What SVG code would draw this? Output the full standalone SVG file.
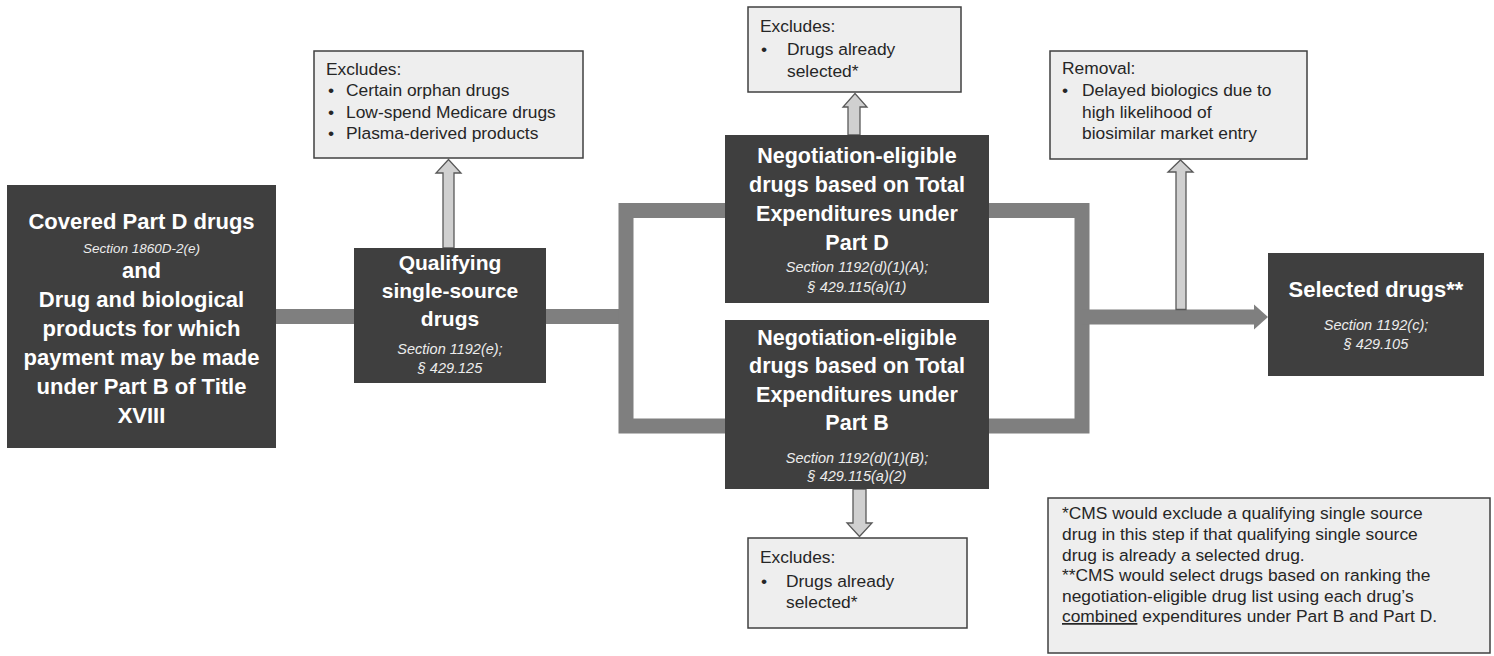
<svg xmlns="http://www.w3.org/2000/svg" width="1494" height="656" viewBox="0 0 1494 656">
<style>
.dark{fill:#3f3f3f}
.light{fill:#eeeeee;stroke:#404040;stroke-width:1.5}
.bar{fill:none;stroke:#7f7f7f;stroke-width:15;stroke-linejoin:miter}
.hollow{fill:#d0d0d0;stroke:#595959;stroke-width:1.3}
.b{font-family:"Liberation Sans",Arial,sans-serif;font-weight:bold;fill:#ffffff;text-anchor:middle}
.i{font-family:"Liberation Sans",Arial,sans-serif;font-style:italic;fill:#ececec;text-anchor:middle;font-size:14.5px}
.t{font-family:"Liberation Sans",Arial,sans-serif;fill:#262626;font-size:17.4px}
</style>
<rect width="1494" height="656" fill="#ffffff"/>
<g id="connectors">
  <path class="bar" d="M276 316.5 H626"/>
  <rect class="bar" x="626" y="210.5" width="456" height="215.5"/>
  <path class="bar" d="M1082 317 H1256"/>
  <polygon fill="#7f7f7f" points="1254,304.5 1268,317 1254,329.5"/>
  <polygon class="hollow" points="443,248 443,173 436,173 448.5,159.5 461,173 454,173 454,248"/>
  <polygon class="hollow" points="848,135 848,107 843,107 855,93.5 867,107 860,107 860,135"/>
  <polygon class="hollow" points="853,489 853,523 847,523 859.5,536.5 872,523 866,523 866,489"/>
  <polygon class="hollow" points="1176,309.5 1176,172 1168,172 1180.5,160 1193,172 1186,172 1186,309.5"/>
</g>
<g id="covered">
  <rect class="dark" x="7" y="185" width="269" height="263"/>
  <text class="b" font-size="22" x="141.5" y="229">Covered Part D drugs</text>
  <text class="i" style="font-size:13.5px" x="141.5" y="253">Section 1860D-2(e)</text>
  <text class="b" font-size="22" x="141.5" y="278">and</text>
  <text class="b" font-size="22" x="141.5" y="307">Drug and biological</text>
  <text class="b" font-size="22" x="141.5" y="336">products for which</text>
  <text class="b" font-size="22" x="141.5" y="365">payment may be made</text>
  <text class="b" font-size="22" x="141.5" y="394">under Part B of Title</text>
  <text class="b" font-size="22" x="141.5" y="423">XVIII</text>
</g>
<g id="qualifying">
  <rect class="dark" x="354" y="248" width="192" height="135"/>
  <text class="b" font-size="21" x="450" y="270">Qualifying</text>
  <text class="b" font-size="21" x="450" y="298">single-source</text>
  <text class="b" font-size="21" x="450" y="326">drugs</text>
  <text class="i" x="450" y="354">Section 1192(e);</text>
  <text class="i" x="450" y="373">§ 429.125</text>
</g>
<g id="excludes1">
  <rect class="light" x="314" y="51" width="269" height="107"/>
  <text class="t" x="326" y="75">Excludes:</text>
  <text class="t" x="328" y="96">•</text><text class="t" x="346" y="96">Certain orphan drugs</text>
  <text class="t" x="328" y="118">•</text><text class="t" x="346" y="118">Low-spend Medicare drugs</text>
  <text class="t" x="328" y="139">•</text><text class="t" x="346" y="139">Plasma-derived products</text>
</g>
<g id="partd">
  <rect class="dark" x="725" y="135" width="264" height="168"/>
  <text class="b" font-size="21.5" x="857" y="163">Negotiation-eligible</text>
  <text class="b" font-size="21.5" x="857" y="192">drugs based on Total</text>
  <text class="b" font-size="21.5" x="857" y="221">Expenditures under</text>
  <text class="b" font-size="21.5" x="857" y="250">Part D</text>
  <text class="i" x="857" y="272">Section 1192(d)(1)(A);</text>
  <text class="i" x="857" y="292">§ 429.115(a)(1)</text>
</g>
<g id="excludes2">
  <rect class="light" x="748" y="7" width="213" height="85"/>
  <text class="t" x="760" y="32">Excludes:</text>
  <text class="t" x="761" y="55">•</text><text class="t" x="787" y="55">Drugs already</text>
  <text class="t" x="787" y="77">selected*</text>
</g>
<g id="partb">
  <rect class="dark" x="725" y="320" width="264" height="169"/>
  <text class="b" font-size="21.5" x="857" y="345">Negotiation-eligible</text>
  <text class="b" font-size="21.5" x="857" y="373">drugs based on Total</text>
  <text class="b" font-size="21.5" x="857" y="402">Expenditures under</text>
  <text class="b" font-size="21.5" x="857" y="430">Part B</text>
  <text class="i" x="857" y="463">Section 1192(d)(1)(B);</text>
  <text class="i" x="857" y="481">§ 429.115(a)(2)</text>
</g>
<g id="excludes3">
  <rect class="light" x="748" y="538" width="219" height="90"/>
  <text class="t" x="760" y="563">Excludes:</text>
  <text class="t" x="761" y="587">•</text><text class="t" x="786" y="587">Drugs already</text>
  <text class="t" x="786" y="608">selected*</text>
</g>
<g id="removal">
  <rect class="light" x="1050" y="51" width="257" height="108"/>
  <text class="t" x="1062" y="74">Removal:</text>
  <text class="t" x="1062" y="96">•</text><text class="t" x="1082" y="96">Delayed biologics due to</text>
  <text class="t" x="1082" y="118">high likelihood of</text>
  <text class="t" x="1082" y="139">biosimilar market entry</text>
</g>
<g id="selected">
  <rect class="dark" x="1268" y="253" width="216" height="123"/>
  <text class="b" font-size="22" x="1376" y="297">Selected drugs**</text>
  <text class="i" x="1376" y="330">Section 1192(c);</text>
  <text class="i" x="1376" y="349">§ 429.105</text>
</g>
<g id="note">
  <rect class="light" x="1048" y="498" width="442" height="155"/>
  <text class="t" x="1062" y="519">*CMS would exclude a qualifying single source</text>
  <text class="t" x="1062" y="540">drug in this step if that qualifying single source</text>
  <text class="t" x="1062" y="561">drug is already a selected drug.</text>
  <text class="t" x="1062" y="581">**CMS would select drugs based on ranking the</text>
  <text class="t" x="1062" y="602">negotiation-eligible drug list using each drug’s</text>
  <text class="t" x="1062" y="622"><tspan style="text-decoration:underline">combined</tspan> expenditures under Part B and Part D.</text>
</g>
</svg>
